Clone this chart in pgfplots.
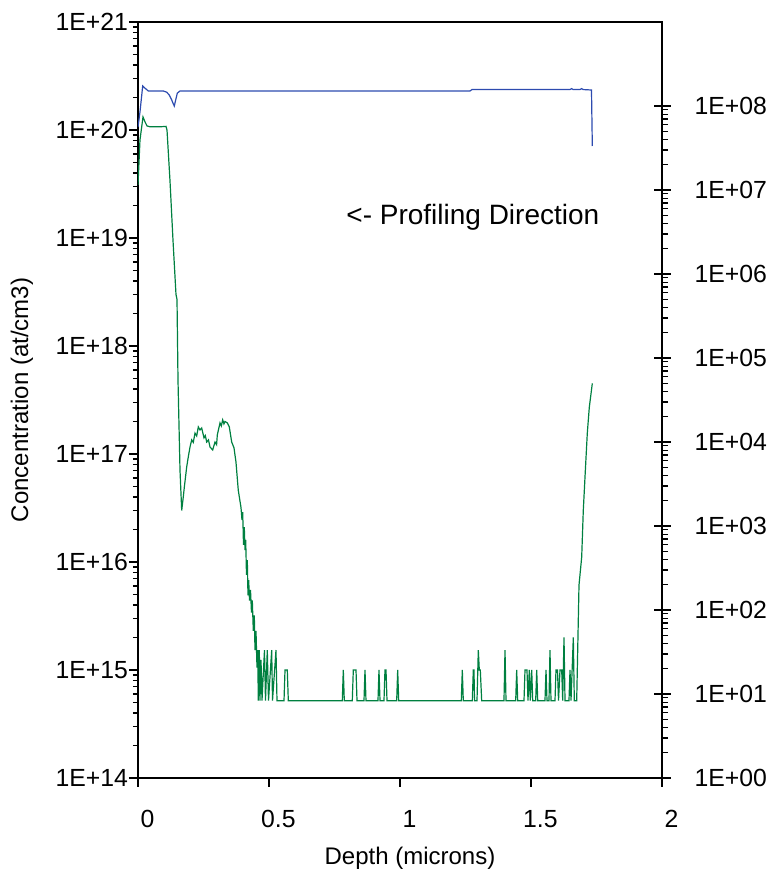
\documentclass[border=0pt]{standalone}
\usepackage{fontspec}
\setmainfont{Liberation Sans}
\usepackage{pgfplots}
\pgfplotsset{compat=1.18}
\definecolor{simsblue}{RGB}{45,75,175}
\definecolor{simsgreen}{RGB}{0,128,64}

\begin{document}
\begin{tikzpicture}
\useasboundingbox (-69pt,-47.5pt) rectangle (314.5pt,389pt);
% left axis: concentration
\begin{axis}[
  at={(0,0)}, anchor=south west,
  scale only axis, width=262pt, height=378pt,
  xmin=0, xmax=2, ymode=log, ymin=1e14, ymax=1e21,
  xtick={0,0.5,1,1.5,2}, xticklabels={0,0.5,1,1.5,2},
  ytick={1e14,1e15,1e16,1e17,1e18,1e19,1e20,1e21},
  yticklabels={1E+14,1E+15,1E+16,1E+17,1E+18,1E+19,1E+20,1E+21},
  xtick pos=bottom, ytick pos=left,
  tick align=outside,
  major tick length=4.5pt, minor tick length=2.5pt,
  tick style={black, line width=0.6pt},
  axis line style={line width=0.8pt},
  font=\fontsize{12.4}{14}\selectfont,
  xticklabel style={anchor=center, xshift=4.7pt, yshift=-16pt},
  yticklabel style={anchor=east, xshift=3pt},
  xlabel={Depth (microns)},
  ylabel={Concentration (at/cm3)},
  label style={font=\fontsize{12}{14}\selectfont},
  xlabel style={at={(axis description cs:0.519,-0.1058)}, anchor=center},
  ylabel style={at={(axis description cs:-0.2214,0.5)}, anchor=center},
]
\addplot[simsgreen, line width=0.6pt] coordinates {
(0.0000,3.1e19) (0.0076,8.1e19) (0.0191,1.32e20) (0.0267,1.19e20)
(0.0344,1.09e20) (0.0458,1.07e20) (0.0840,1.07e20) (0.1069,1.08e20)
(0.1107,1.0e20) (0.1221,3.4e19) (0.1336,9.5e18) (0.1450,3.0e18)
(0.1489,2.7e18) (0.1527,4.8e17) (0.1603,7.1e16) (0.1668,3.0e16)
(0.1729,4.0e16) (0.1767,4.9e16) (0.1859,7.6e16) (0.1920,9.4e16)
(0.1985,1.16e17) (0.2050,1.35e17) (0.2110,1.28e17) (0.2176,1.56e17)
(0.2240,1.47e17) (0.2302,1.78e17) (0.2366,1.67e17) (0.2431,1.74e17)
(0.2519,1.41e17) (0.2570,1.48e17) (0.2622,1.29e17) (0.2690,1.35e17)
(0.2748,1.16e17) (0.2851,1.09e17) (0.2939,1.29e17) (0.3000,1.22e17)
(0.3027,1.50e17) (0.3130,1.94e17) (0.3180,1.82e17) (0.3233,2.07e17)
(0.3280,1.90e17) (0.3321,2.0e17) (0.3408,1.94e17) (0.3485,1.78e17)
(0.3576,1.29e17) (0.3664,1.14e17) (0.3740,8.4e16) (0.3828,4.6e16)
(0.3931,3.2e16) (0.3969,2.45e16) (0.3996,2.9e16) (0.4027,1.44e16)
(0.4057,2.1e16) (0.4084,1.29e16) (0.4111,1.6e16) (0.4141,7.6e15)
(0.4172,1.04e16) (0.4198,4.9e15) (0.4225,6.8e15) (0.4256,4.4e15)
(0.4294,5.5e15) (0.4332,3.4e15) (0.4363,4.4e15) (0.4401,2.3e15)
(0.4439,3.2e15) (0.4466,1.53e15) (0.4504,2.3e15) (0.4542,1.05e15)
(0.4569,1.53e15) (0.4592,5.2e14) (0.4630,1.53e15) (0.4656,5.2e14)
(0.4695,1.24e15) (0.4733,5.2e14) (0.4771,8.1e14) (0.4828,1.53e15)
(0.4866,5.2e14) (0.4935,1.53e15) (0.4981,5.2e14) (0.5103,1.53e15)
(0.5134,5.2e14) (0.5267,1.53e15) (0.5305,5.2e14) (0.5573,5.2e14)
(0.5611,1.0e15) (0.5698,1.0e15) (0.5737,5.2e14) (0.7798,5.2e14)
(0.7836,1.0e15) (0.7874,5.2e14) (0.8179,5.2e14) (0.8218,1.0e15)
(0.8321,1.0e15) (0.8359,5.2e14) (0.8626,5.2e14) (0.8664,1.0e15)
(0.8702,5.2e14) (0.9160,5.2e14) (0.9198,1.0e15) (0.9237,5.2e14)
(0.9389,5.2e14) (0.9427,1.0e15) (0.9466,1.0e15) (0.9504,5.2e14)
(0.9874,5.2e14) (0.9912,1.0e15) (0.9950,5.2e14) (1.2340,5.2e14)
(1.2378,1.0e15) (1.2416,5.2e14) (1.2760,5.2e14) (1.2798,1.0e15)
(1.2824,1.0e15) (1.2844,5.2e14) (1.2939,5.2e14) (1.2989,1.53e15)
(1.3027,1.0e15) (1.3065,1.0e15) (1.3118,5.2e14) (1.3969,5.2e14)
(1.4008,1.53e15) (1.4046,5.2e14) (1.4416,5.2e14) (1.4454,1.0e15)
(1.4492,5.2e14) (1.4733,5.2e14) (1.4771,1.0e15) (1.4847,1.0e15)
(1.4885,5.2e14) (1.4935,1.0e15) (1.4973,5.2e14) (1.5027,1.0e15)
(1.5065,5.2e14) (1.5179,5.2e14) (1.5218,1.0e15) (1.5256,5.2e14)
(1.5534,5.2e14) (1.5573,1.0e15) (1.5611,5.2e14) (1.5687,5.2e14)
(1.5725,1.53e15) (1.5763,5.2e14) (1.5916,5.2e14) (1.5954,1.0e15)
(1.6011,1.0e15) (1.6050,5.2e14) (1.6107,1.0e15) (1.6172,1.0e15)
(1.6210,5.2e14) (1.6260,2.0e15) (1.6298,5.2e14) (1.6450,5.2e14)
(1.6489,1.0e15) (1.6527,5.2e14) (1.6615,2.0e15) (1.6653,5.2e14)
(1.6744,5.2e14) (1.6832,6.1e15) (1.6935,1.11e16) (1.6996,3.0e16)
(1.7061,6.1e16) (1.7149,1.56e17) (1.7225,2.7e17) (1.7340,4.5e17)
};
\node[font=\fontsize{14}{16}\selectfont] at (rel axis cs:0.639,0.742) {<- Profiling Direction};
\end{axis}
% right axis: counts
\begin{axis}[
  at={(0,0)}, anchor=south west,
  scale only axis, width=262pt, height=378pt,
  xmin=0, xmax=2, ymode=log, ymin=1, ymax=1e9,
  axis x line=none, axis y line*=right,
  ytick={1,10,100,1e3,1e4,1e5,1e6,1e7,1e8},
  yticklabels={1E+00,1E+01,1E+02,1E+03,1E+04,1E+05,1E+06,1E+07,1E+08},
  ytick align=center,
  major tick length=8.5pt, minor tick length=3pt,
  minor y tick style={xshift=1.5pt},
  tick style={black, line width=0.6pt},
  axis line style={line width=0.8pt},
  font=\fontsize{12.4}{14}\selectfont,
  yticklabel style={anchor=west, xshift=8.5pt},
]
\addplot[simsblue, line width=0.6pt] coordinates {
(0.0000,5.6e7) (0.0076,8.5e7) (0.0179,1.73e8) (0.0267,1.63e8)
(0.0393,1.51e8) (0.0966,1.51e8) (0.1095,1.46e8) (0.1195,1.35e8)
(0.1286,1.18e8) (0.1347,1.06e8) (0.1385,1.0e8) (0.1439,1.18e8)
(0.1500,1.42e8) (0.1603,1.51e8) (1.2672,1.51e8) (1.2748,1.57e8)
(1.6489,1.57e8) (1.6553,1.61e8) (1.6603,1.57e8) (1.6870,1.57e8)
(1.6935,1.61e8) (1.6985,1.57e8) (1.7309,1.55e8) (1.7340,3.34e7)
};
\end{axis}
\end{tikzpicture}
\end{document}
